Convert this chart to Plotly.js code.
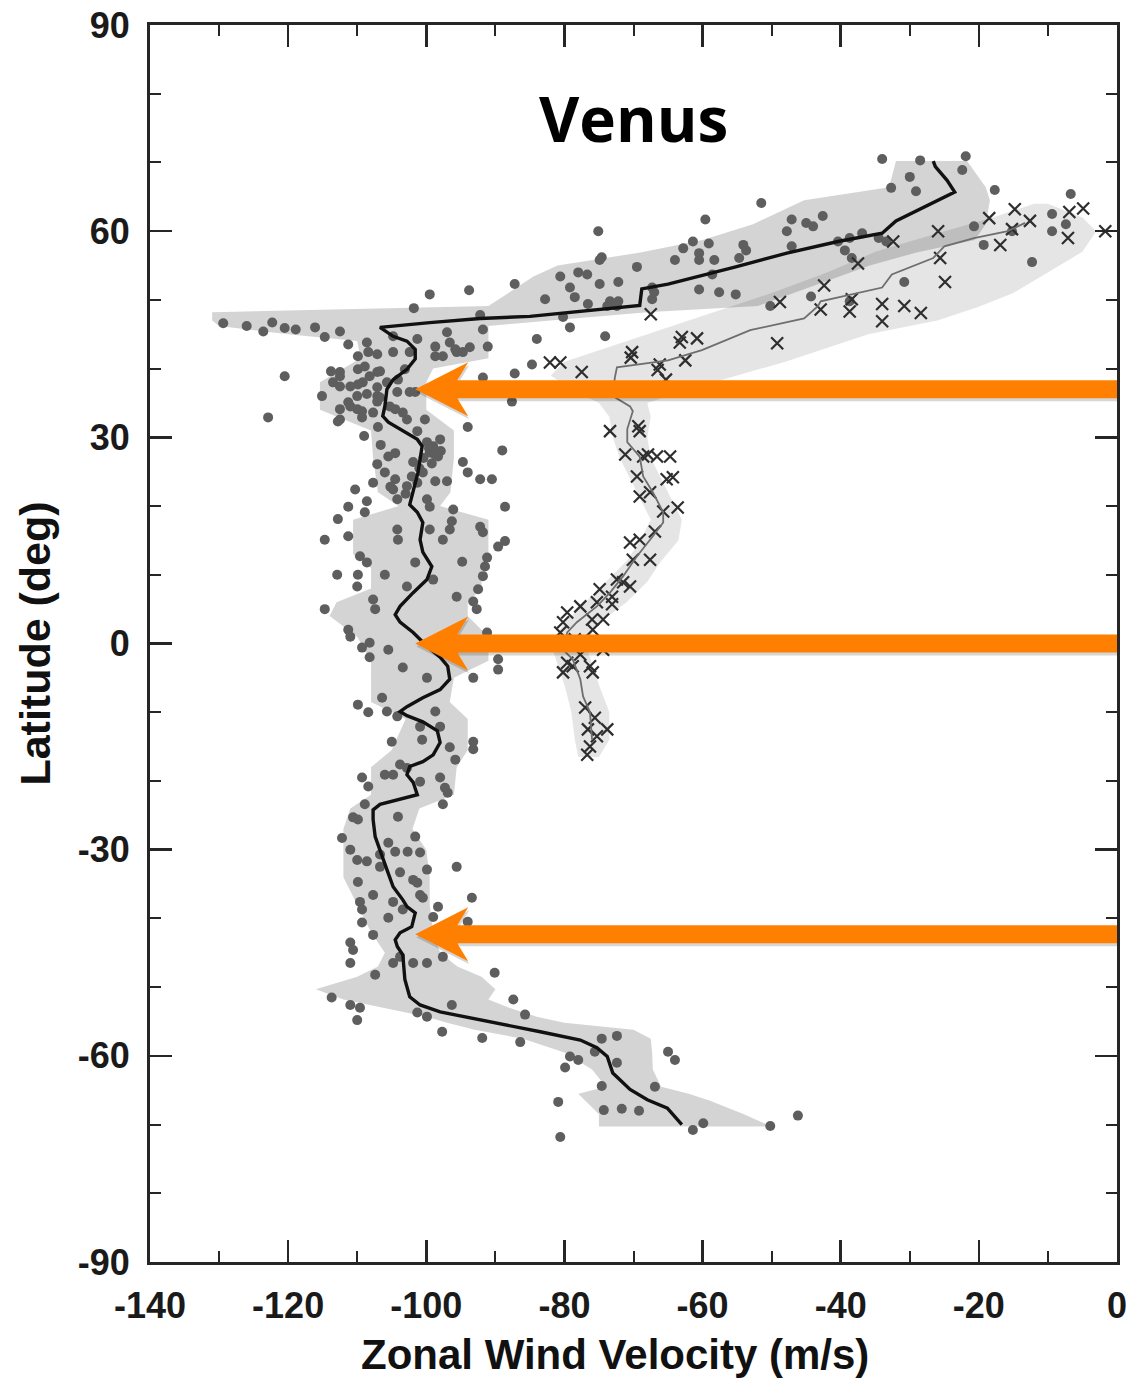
<!DOCTYPE html>
<html>
<head>
<meta charset="utf-8">
<script src="https://cdn.plot.ly/plotly-3.0.1.min.js"></script>
<style>html,body{margin:0;padding:0;background:#fff;}#chart{width:1133px;height:1382px;}</style>
</head>
<body>
<div id="chart"></div>
<script>
// ---- Mean zonal wind profile (dots, black line) ----
const lineVel = [-63.0,-65.1,-68.0,-70.5,-73.0,-73.8,-75.3,-77.7,-83.5,-88.3,-93.2,-98.0,-100.9,-102.4,-103.1,-103.2,-103.4,-104.2,-104.5,-103.8,-102.1,-101.6,-102.8,-103.4,-104.8,-105.7,-106.7,-107.4,-107.7,-107.7,-106.7,-103.8,-101.3,-101.9,-102.8,-102.4,-100.5,-99.0,-98.0,-98.4,-100.5,-102.8,-103.8,-102.8,-100.5,-98.0,-96.6,-96.9,-98.0,-99.9,-101.9,-103.8,-104.5,-103.8,-101.9,-99.9,-99.2,-100.5,-100.9,-100.5,-101.3,-102.4,-101.9,-101.2,-100.9,-100.6,-101.3,-103.4,-105.5,-106.3,-106.0,-105.7,-104.8,-102.8,-101.6,-101.6,-102.8,-104.8,-106.7,-99.5,-92.2,-85.0,-80.2,-73.0,-69.1,-68.8,-65.0,-55.2,-47.8,-40.4,-34.0,-32.0,-29.1,-25.6,-23.5,-24.6,-26.3,-26.6];
const lineLat = [-70.0,-67.6,-66.4,-64.9,-62.5,-60.1,-58.8,-57.7,-56.5,-55.5,-54.5,-53.6,-52.6,-51.4,-48.9,-47.0,-45.3,-44.1,-43.1,-42.1,-41.2,-39.2,-38.3,-37.3,-35.4,-32.9,-30.0,-28.1,-25.6,-24.2,-23.4,-22.7,-22.0,-20.2,-19.1,-17.9,-17.2,-16.2,-14.4,-12.7,-11.4,-10.5,-9.9,-9.2,-7.9,-6.7,-5.2,-3.3,-2.0,-0.4,1.6,3.1,4.2,5.4,7.4,9.3,11.2,13.3,15.1,17.6,19.1,20.2,22.0,24.9,26.8,28.7,29.7,30.9,32.2,33.1,34.5,37.0,38.4,39.9,41.4,42.8,44.0,44.7,46.0,46.7,47.3,47.6,48.1,48.9,49.2,51.6,52.3,54.8,56.8,58.5,59.7,61.5,62.9,64.7,65.7,67.4,69.4,70.2];

// ---- Spread envelope of dot measurements ----
const bandLat = [-70.3,-68.5,-66.5,-65.5,-64.5,-62,-59.5,-57.5,-56.2,-55.2,-54.3,-53,-51.8,-50.3,-48.5,-47,-45,-42,-38,-34,-30,-27,-24,-22,-18,-15.5,-11,-8.5,-5,-2.5,1,4,6,8,11,13,18,20,22,27,31,34,38,40,41.5,44,45,46.2,47,48.2,49.1,53.4,55,56.9,58.7,61,64.5,66.4,70.2];
const bandLo  = [-75,-75,-77,-78,-74,-76,-80,-86,-93,-97,-100,-106,-112,-116,-110,-107,-106,-108,-110,-112,-112,-112,-111,-108,-108,-105,-103,-108,-108,-108,-110,-114,-113,-108,-108,-110.6,-110.6,-104,-107,-107.7,-108,-115.4,-115.4,-112,-109.5,-110,-120,-130,-131,-131,-91,-84.5,-81,-69,-60,-52.7,-45.3,-33,-32];
const bandHi  = [-50,-54,-59,-62,-66,-67.2,-67.3,-67.5,-70,-80,-84,-88,-91,-90,-92,-95.5,-98,-99,-99.5,-99.5,-100,-102,-101,-96,-95.6,-94,-94,-96.6,-96,-91,-91,-94,-94,-92,-92,-91,-91,-98,-96.5,-96,-96,-100,-100,-99,-91,-91,-91,-91,-82,-68,-52,-40,-35.8,-29,-20.6,-19,-18.4,-19,-21.7];

// ---- Second data set (crosses, grey line) ----
const crossLineVel = [-76.0,-76.3,-77.3,-77.7,-78.8,-80.2,-79.6,-78.2,-75.3,-73.4,-71.5,-69.5,-67.2,-65.7,-65.7,-67.2,-68.6,-69.1,-70.9,-70.9,-70.1,-70.5,-73.0,-72.7,-72.4,-65.0,-60.1,-53.1,-45.3,-43.3,-42.9,-34.0,-32.6,-26.6,-25.0,-20.7,-15.8,-13.3];
const crossLineLat = [-14.0,-10.0,-7.7,-5.2,-2.3,-0.9,1.6,3.1,5.4,7.4,9.8,12.7,15.6,17.6,19.1,22.0,24.3,27.2,29.3,31.2,33.8,34.5,36.0,38.7,40.2,41.2,42.7,45.6,47.3,49.1,49.8,51.8,53.7,56.1,57.8,59.0,60.0,61.2];
const xBandLat = [-16.5,-14,-10,-6,-3,0,3,6,9,12,15,18,21,24,27,30,33,35,37,39,41,43,45,47,49,51,54,57,60,62,64];
const xBandLo  = [-78,-78.5,-79,-80,-81,-82,-80,-77,-74,-71,-69,-67.5,-69,-70.5,-72,-73,-73.5,-75,-79,-82,-80,-74,-68,-62,-56,-50,-42,-35,-25,-18,-12];
const xBandHi  = [-75,-73.5,-73.5,-75,-76,-77,-75,-71,-68,-66,-63.5,-63,-64.5,-66,-67.5,-68,-67.5,-68,-62,-55,-48,-42,-36,-26,-20,-15,-10,-5,-3,-5,-10];

// ---- Individual measurements (dots) ----
const dotVel = [-75.1,-74.6,-87.2,-93.8,-99.5,-101.8,-92.2,-91.8,-84.0,-74.1,-80.6,-79.2,-78.5,-82.8,-78.0,-76.7,-74.9,-72.2,-76.6,-73.4,-72.2,-80.2,-79.2,-69.5,-67.3,-67.3,-84.7,-87.2,-91.8,-87.6,
-34.0,-28.5,-21.9,-22.4,-30.0,-32.7,-29.1,-51.5,-59.6,-42.6,-47.1,-45.0,-44.0,-47.8,-47.1,-62.8,-61.4,-59.1,-60.5,-60.5,-58.3,-64.0,-74.9,-54.1,-53.7,-54.7,-58.6,-60.5,-57.6,-55.2,-67.0,-73.8,-72.4,-38.7,-36.9,-39.4,-38.4,-40.4,-34.5,-33.4,-44.3,-38.7,-30.8,-20.7,-19.3,-17.7,-12.3,-9.4,-9.4,-6.7,-7.4,-50.2,-15.2,
-129.4,-126.0,-123.6,-122.3,-120.5,-118.9,-116.1,-114.7,-112.5,-111.3,-108.6,-104.8,-101.3,-98.7,-97.0,-91.1,-109.9,-108.4,-107.1,-108.9,-107.1,-104.8,-102.4,-103.1,-102.4,-98.7,-97.6,-96.6,-95.6,-94.7,-93.7,
-112.5,-111.0,-110.0,-113.5,-109.2,-107.1,-105.7,-104.2,-105.3,-107.7,-109.3,-111.0,-103.4,-95.8,-120.5,-113.8,-112.5,-109.9,-108.2,-106.7,-104.1,-115.1,-112.5,-109.9,-108.6,-107.1,-106.7,-111.3,-110.0,-112.5,-109.3,-112.5,-107.1,-101.6,-104.5,-102.8,-122.9,-112.8,-107.0,-100.2,-94.0,
-101.3,-99.9,-99.0,-98.0,-99.5,-98.3,-89.0,-104.5,-105.5,-107.1,-106.0,-104.5,-107.7,-104.8,-102.8,-101.9,-102.1,-101.3,-100.5,-94.7,-94.0,-92.2,-90.5,-98.7,-97.0,-110.3,-111.3,-108.6,-112.8,-108.9,-104.2,-99.9,-99.5,-96.1,-88.6,
-111.3,-114.7,-109.6,-108.6,-106.0,-112.9,-109.9,-110.0,-104.2,-104.1,-99.5,-97.6,-96.6,-96.3,-92.2,-91.8,-89.6,-88.6,-101.6,-99.0,-94.8,-91.2,-91.5,-91.8,-92.5,-102.8,-95.6,-93.2,-92.7,-114.7,-107.7,-107.4,-111.3,-111.0,-108.2,-109.3,-105.5,-108.2,-103.4,-99.9,-91.2,-89.6,-89.6,-93.2,
-109.9,-106.4,-108.4,-105.7,-104.2,-98.7,-100.9,-98.0,-105.0,-100.6,-96.6,-93.2,-93.2,-95.8,-103.8,-102.8,-109.3,-108.4,-106.0,-104.8,-100.9,-98.0,-97.3,-96.9,-97.6,-108.9,-104.1,-110.6,-109.9,-112.2,-111.0,-110.0,-108.6,-106.7,-104.5,-102.7,-100.9,-101.6,-105.5,-106.7,-99.9,-95.6,
-109.9,-103.8,-101.9,-101.3,-107.7,-109.6,-109.3,-100.9,-100.5,-98.3,-99.0,-104.8,-103.4,-105.5,-107.7,-109.3,-111.0,-110.6,-111.0,-103.8,-104.8,-101.9,-99.9,-97.6,-93.4,-94.0,-107.4,-90.1,
-113.7,-111.0,-109.6,-110.0,-101.3,-99.9,-96.3,-87.4,-85.7,-97.7,-91.9,-86.4,-79.2,-78.0,-79.9,-80.9,-74.6,-72.4,-75.6,-72.4,-65.0,-64.0,-74.6,-66.9,-74.3,-71.7,-69.2,-61.4,-59.9,-50.2,-46.2,-80.6,
-99.6,-98.8,-100.4,-99.2,-97.9,-101.0,-103.0,-105.2,-106.6,-109.0];
const dotLat = [60.0,56.2,52.3,51.4,50.8,48.8,47.8,45.7,44.3,44.7,53.4,51.8,50.4,50.1,54.0,53.7,52.3,52.6,49.4,49.8,49.8,47.5,46.0,54.8,51.8,50.1,40.6,39.3,38.7,35.2,
70.5,70.3,70.9,68.9,67.9,66.3,65.8,64.1,61.7,62.2,61.7,61.2,60.7,60.0,57.8,57.5,58.5,58.2,56.8,55.8,55.8,55.8,55.8,58.0,57.2,56.1,53.7,51.5,51.1,50.8,51.1,49.1,49.1,59.0,59.7,57.2,56.1,58.5,59.0,58.5,50.5,49.8,52.6,60.7,58.0,66.0,55.5,62.5,60.0,65.4,61.0,49.1,60.0,
46.6,46.2,45.4,46.7,45.9,45.7,46.0,44.6,45.4,43.5,43.8,44.7,44.3,43.2,45.3,43.2,41.8,42.4,42.1,40.3,39.5,42.4,42.4,39.9,36.6,41.8,41.8,43.8,42.4,42.4,43.1,
39.5,37.4,36.0,38.0,38.0,36.0,38.0,36.6,34.5,33.6,33.8,34.5,33.6,42.8,38.9,39.6,38.9,39.9,38.9,39.6,38.4,36.0,37.4,37.7,36.3,37.3,35.8,35.1,34.1,34.1,32.9,32.6,35.2,36.6,34.1,32.6,32.9,32.3,31.5,32.6,31.5,
30.9,29.3,28.7,29.7,27.8,27.2,28.1,27.7,27.2,26.1,24.9,23.9,23.4,22.4,22.9,26.4,24.3,23.4,24.9,26.4,24.9,23.9,23.9,23.6,23.6,22.4,19.9,20.7,18.1,19.1,21.0,21.0,19.9,19.5,19.9,
15.6,15.1,12.7,11.8,10.0,10.0,10.0,8.3,16.6,15.1,16.6,15.1,16.6,17.8,17.0,16.2,14.1,14.9,11.8,9.3,11.9,12.5,11.2,9.8,7.9,8.3,6.8,6.1,5.0,5.0,6.4,5.0,2.0,1.0,0.1,-0.6,-0.9,-2.0,-3.5,-5.0,1.6,-2.3,-3.8,-5.0,
-8.9,-7.9,-10.0,-9.9,-10.6,-9.9,-12.1,-12.1,-14.3,-14.0,-15.1,-14.3,-15.4,-16.9,-17.6,-18.1,-19.5,-20.8,-19.1,-19.1,-20.1,-19.5,-21.0,-21.7,-23.4,-23.4,-25.2,-25.3,-25.6,-28.3,-30.0,-31.5,-31.7,-30.7,-30.3,-30.3,-30.4,-28.1,-29.0,-32.5,-32.9,-32.5,
-34.7,-33.3,-34.4,-34.8,-36.6,-37.6,-38.7,-36.6,-37.0,-38.3,-39.8,-37.6,-38.7,-39.9,-42.4,-40.6,-43.5,-44.6,-46.5,-45.6,-46.5,-46.5,-46.5,-45.6,-37.0,-40.5,-48.2,-47.9,
-51.5,-52.6,-53.0,-54.8,-53.7,-54.3,-52.6,-51.8,-54.0,-56.5,-57.4,-58.0,-60.1,-60.6,-61.7,-66.7,-57.5,-57.1,-59.4,-61.0,-59.4,-60.6,-64.4,-64.5,-67.9,-67.7,-68.0,-70.8,-69.8,-70.2,-68.7,-71.8,
28.4,27.5,27.0,26.2,28.0,25.5,21.8,22.8,28.9,30.2];

// ---- Individual measurements (crosses) ----
const crossVel = [-67.5,-48.8,-42.4,-42.9,-37.5,-38.4,-38.7,-34.0,-34.0,-30.8,-28.4,-24.9,-25.6,-25.9,-32.4,-18.5,-14.8,-15.2,-16.9,-12.6,-6.9,-4.9,-7.1,-49.2,-63.3,-60.8,-70.4,-66.5,-65.3,-62.5,-82.1,-80.6,-77.5,-70.2,
-73.4,-69.3,-69.1,-71.2,-68.6,-67.9,-66.6,-64.7,-69.5,-65.2,-64.3,-69.1,-67.6,-65.7,-63.6,-66.9,-70.5,-69.1,-70.1,-67.6,-72.4,-74.9,-70.5,-73.1,-75.3,-77.7,-79.6,-76.0,-73.1,-74.4,-75.9,-80.2,-80.6,
-78.8,-80.2,-79.6,-76.3,-75.9,-77.0,-75.6,-73.8,-76.6,-75.3,-76.3,-76.7,-71.5,-63.0,-66.2,-1.7,-78.5,-77.7,-74.4];
const crossLat = [47.9,49.7,52.1,48.6,55.3,50.1,48.3,49.4,46.9,49.1,48.1,52.6,56.1,60.0,58.5,61.9,63.2,60.3,58.0,61.5,62.8,63.3,59.0,43.7,43.8,44.4,41.6,39.8,38.4,41.2,40.9,40.9,39.5,42.4,
30.9,31.6,30.9,27.5,27.2,27.5,27.2,27.2,24.3,23.9,24.2,21.4,22.0,19.2,19.8,16.3,14.7,15.1,12.2,12.2,9.3,7.9,8.3,6.8,6.0,5.4,4.5,3.5,5.7,3.5,2.0,3.1,1.6,
-3.3,-4.2,-2.8,-3.3,-4.2,-9.3,-10.8,-12.5,-12.5,-13.5,-15.0,-16.2,8.9,44.6,40.6,60.0,0.6,-1.6,-0.9];

// ---- Axis ticks ----
const xTickVals = [-140,-120,-100,-80,-60,-40,-20,0];
const xTickText = ['-140','-120','-100','-80','-60','-40','-20','0'];
const yTickVals = [-90,-60,-30,0,30,60,90];
const yTickText = ['-90','-60','-30','0','30','60','90'];

// ---- Annotation arrows (latitudes pointed at) ----
const arrowLat = [37.0, 0.0, -42.3];
const arrowTipVel = -101.6;

function envelope(lat, lo, hi) {
  return {
    x: hi.concat(lo.slice().reverse()),
    y: lat.concat(lat.slice().reverse())
  };
}
const dotEnv = envelope(bandLat, bandLo, bandHi);
const crossEnv = envelope(xBandLat, xBandLo, xBandHi);

const traces = [
  {x: crossEnv.x, y: crossEnv.y, type: 'scatter', mode: 'lines', fill: 'toself',
   fillcolor: 'rgba(0,0,0,0.10)', line: {width: 0}, hoverinfo: 'skip'},
  {x: dotEnv.x, y: dotEnv.y, type: 'scatter', mode: 'lines', fill: 'toself',
   fillcolor: 'rgba(0,0,0,0.17)', line: {width: 0}, hoverinfo: 'skip'},
  {x: dotVel, y: dotLat, type: 'scatter', mode: 'markers',
   marker: {symbol: 'circle', size: 10, color: '#5e5e5e'}},
  {x: crossVel, y: crossLat, type: 'scatter', mode: 'markers',
   marker: {symbol: 'x-thin', size: 12, line: {width: 2.2, color: '#2e2e2e'}}},
  {x: crossLineVel, y: crossLineLat, type: 'scatter', mode: 'lines',
   line: {color: '#6e6e6e', width: 1.8}},
  {x: lineVel, y: lineLat, type: 'scatter', mode: 'lines',
   line: {color: '#111111', width: 3.4}}
];

const orange = '#FF7F00';
const shapes = [];
arrowLat.forEach(function (lat) {
  // soft drop shadow
  shapes.push({type: 'line', xref: 'x', yref: 'y', ysizemode: 'pixel', yanchor: lat,
               x0: arrowTipVel + 6, x1: 0, y0: -3, y1: -3,
               line: {color: 'rgba(0,0,0,0.16)', width: 18}, layer: 'above'});
  shapes.push({type: 'path', xref: 'x', yref: 'y', xsizemode: 'pixel', ysizemode: 'pixel',
               xanchor: arrowTipVel, yanchor: lat,
               path: 'M1,-3L54,24L43,6L43,-12L54,-30Z',
               fillcolor: 'rgba(0,0,0,0.16)', line: {width: 0}, layer: 'above'});
  shapes.push({type: 'line', xref: 'x', yref: 'y', x0: arrowTipVel + 4, x1: 0, y0: lat, y1: lat,
               line: {color: orange, width: 18}, layer: 'above'});
  shapes.push({type: 'path', xref: 'x', yref: 'y', xsizemode: 'pixel', ysizemode: 'pixel',
               xanchor: arrowTipVel, yanchor: lat,
               path: 'M0,0L53,27L42,9L42,-9L53,-27Z',
               fillcolor: orange, line: {width: 0}, layer: 'above'});
});

const axisCommon = {
  showline: true, linecolor: '#262626', linewidth: 3, mirror: 'ticks',
  ticks: 'inside', ticklen: 22, tickwidth: 2.5, tickcolor: '#262626',
  showgrid: false, zeroline: false, tickmode: 'array',
  tickfont: {family: 'Liberation Sans, Arial, sans-serif', size: 36, color: '#1a1a1a', weight: 'bold'}
};

const layout = {
  width: 1133, height: 1382,
  margin: {l: 150, r: 16, t: 25, b: 120, pad: 0},
  paper_bgcolor: '#ffffff', plot_bgcolor: '#ffffff',
  showlegend: false, hovermode: false,
  xaxis: Object.assign({}, axisCommon, {
    range: [-140, 0], tickvals: xTickVals, ticktext: xTickText,
    ticklabelstandoff: 10,
    minor: {tickmode: 'linear', tick0: 0, dtick: 10, ticks: 'inside', ticklen: 11, tickwidth: 2, tickcolor: '#262626'}
  }),
  yaxis: Object.assign({}, axisCommon, {
    range: [-90, 90], tickvals: yTickVals, ticktext: yTickText,
    ticklabelstandoff: 10,
    minor: {tickmode: 'linear', tick0: 0, dtick: 10, ticks: 'inside', ticklen: 11, tickwidth: 2, tickcolor: '#262626'},
    title: {text: 'Latitude (deg)', standoff: 14,
            font: {family: 'Liberation Sans, Arial, sans-serif', size: 43, color: '#111', weight: 'bold'}}
  }),
  shapes: shapes,
  annotations: [{
    text: 'Venus', xref: 'paper', yref: 'paper', x: 0.4995, y: 0.9248,
    xanchor: 'center', yanchor: 'middle', showarrow: false,
    font: {family: 'Open Sans, Noto Sans, sans-serif', size: 62, color: '#000', weight: 'bold'}
  }, {
    text: 'Zonal Wind Velocity (m/s)', xref: 'paper', yref: 'paper', x: 0.4804, y: -0.0745,
    xanchor: 'center', yanchor: 'middle', showarrow: false,
    font: {family: 'Liberation Sans, Arial, sans-serif', size: 42, color: '#111', weight: 'bold'}
  }]
};

Plotly.newPlot('chart', traces, layout, {displayModeBar: false, staticPlot: true});
</script>
</body>
</html>
